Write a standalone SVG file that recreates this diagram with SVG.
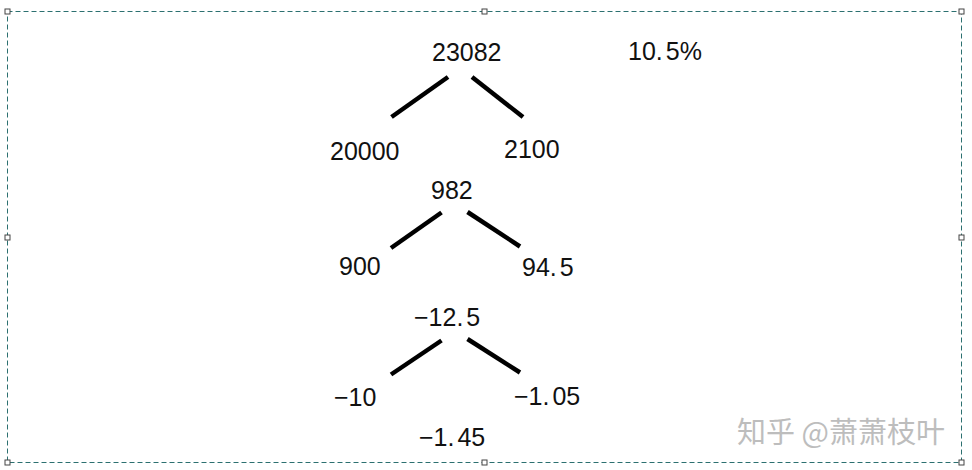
<svg xmlns="http://www.w3.org/2000/svg" width="972" height="470" viewBox="0 0 972 470">
<style>
.frame{fill:none;stroke:#2c7070;stroke-width:1;stroke-dasharray:5 3}
.h{fill:#fff;stroke:#444;stroke-width:1}
.t{font-family:"Liberation Sans",Arial,sans-serif;font-size:25px;fill:#111}
.e{stroke:#000;stroke-width:4.5;stroke-linecap:butt}
.wm{font-family:"Noto Sans CJK SC","Liberation Sans",sans-serif;font-size:29px;fill:#bdbdbd}
</style>
<rect width="972" height="470" fill="#fff"/>
<rect class="frame" x="7.5" y="11.5" width="954" height="451"/>
<g id="handles">
<rect class="h" x="5" y="9" width="5" height="5"/>
<rect class="h" x="482" y="9" width="5" height="5"/>
<rect class="h" x="959" y="9" width="5" height="5"/>
<rect class="h" x="5" y="235" width="5" height="5"/>
<rect class="h" x="959" y="235" width="5" height="5"/>
<rect class="h" x="5" y="460" width="5" height="5"/>
<rect class="h" x="482" y="460" width="5" height="5"/>
<rect class="h" x="959" y="460" width="5" height="5"/>
</g>
<g id="connectors">
<line class="e" x1="391.5" y1="117" x2="448" y2="77"/>
<line class="e" x1="472" y1="77" x2="523" y2="117"/>
<line class="e" x1="391" y1="248" x2="441.5" y2="212.5"/>
<line class="e" x1="467.5" y1="212" x2="520" y2="246.5"/>
<line class="e" x1="391" y1="374.5" x2="441.5" y2="340.5"/>
<line class="e" x1="467.5" y1="339" x2="520" y2="372.5"/>
</g>
<g id="n23082"><text class="t" x="432" y="61">23082</text></g>
<g id="n10_5"><text class="t" x="628" y="60">10.<tspan dx="3">5%</tspan></text></g>
<g id="n20000"><text class="t" x="330" y="160">20000</text></g>
<g id="n2100"><text class="t" x="504" y="158">2100</text></g>
<g id="n982"><text class="t" x="431" y="199">982</text></g>
<g id="n900"><text class="t" x="339" y="275">900</text></g>
<g id="n94_5"><text class="t" x="522" y="276">94.<tspan dx="3">5</tspan></text></g>
<g id="nm12_5"><text class="t" x="414" y="326">−12.<tspan dx="3">5</tspan></text></g>
<g id="nm10"><text class="t" x="334" y="406">−10</text></g>
<g id="nm1_05"><text class="t" x="514" y="405">−1.<tspan dx="3">05</tspan></text></g>
<g id="nm1_45"><text class="t" x="419" y="446">−1.<tspan dx="3">45</tspan></text></g>
<g id="watermark"><text class="wm" x="737" y="443">知乎 @萧萧枝叶</text></g>
</svg>
